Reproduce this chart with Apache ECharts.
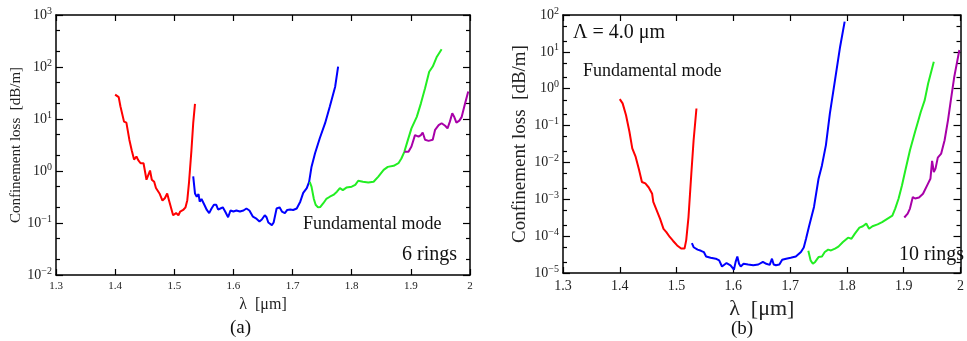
<!DOCTYPE html>
<html>
<head>
<meta charset="utf-8">
<script src="https://cdn.jsdelivr.net/npm/echarts@6/dist/echarts.min.js"></script>
<style>
  html, body { margin: 0; padding: 0; background: #fff; }
  #chart { width: 967px; height: 341px; }
</style>
</head>
<body>
<div id="chart"></div>
<script>
// panel (a): 6 rings, [lambda um, loss dB/m]
const redA = [[1.400,29.5],[1.406,26.3],[1.409,17.4],[1.415,8.9],[1.419,8.5],[1.424,4.0],[1.428,2.5],[1.432,1.66],[1.436,1.9],[1.439,1.62],[1.443,1.41],[1.448,1.41],[1.453,0.68],[1.459,1.02],[1.462,0.68],[1.466,0.62],[1.469,0.47],[1.475,0.37],[1.480,0.27],[1.484,0.30],[1.488,0.37],[1.491,0.275],[1.494,0.257],[1.498,0.141],[1.503,0.155],[1.507,0.141],[1.510,0.166],[1.515,0.178],[1.519,0.20],[1.522,0.275],[1.525,0.62],[1.529,2.5],[1.532,8.3],[1.535,19.5]]
const blueA = [[1.532,0.79],[1.535,0.37],[1.538,0.32],[1.541,0.36],[1.543,0.257],[1.546,0.29],[1.550,0.234],[1.555,0.178],[1.559,0.155],[1.563,0.19],[1.567,0.224],[1.571,0.224],[1.574,0.182],[1.578,0.19],[1.582,0.20],[1.586,0.166],[1.591,0.129],[1.595,0.174],[1.600,0.166],[1.605,0.174],[1.611,0.166],[1.617,0.174],[1.622,0.19],[1.627,0.174],[1.633,0.132],[1.638,0.123],[1.644,0.107],[1.648,0.117],[1.653,0.141],[1.656,0.129],[1.659,0.102],[1.665,0.091],[1.668,0.102],[1.673,0.19],[1.678,0.20],[1.682,0.166],[1.687,0.155],[1.691,0.178],[1.696,0.182],[1.701,0.178],[1.707,0.19],[1.713,0.257],[1.718,0.38],[1.724,0.47],[1.728,0.62],[1.732,1.2],[1.738,2.19],[1.746,4.27],[1.755,8.3],[1.763,17.4],[1.772,41.7],[1.777,102]]
const greenA = [[1.729,0.62],[1.732,0.50],[1.736,0.29],[1.739,0.224],[1.743,0.20],[1.747,0.204],[1.752,0.24],[1.757,0.29],[1.763,0.32],[1.769,0.347],[1.775,0.40],[1.780,0.47],[1.785,0.43],[1.791,0.48],[1.800,0.50],[1.806,0.54],[1.811,0.65],[1.819,0.62],[1.828,0.60],[1.837,0.62],[1.845,0.78],[1.854,1.05],[1.861,1.2],[1.871,1.26],[1.879,1.41],[1.884,1.74],[1.889,2.34],[1.894,3.63],[1.901,6.6],[1.910,11.0],[1.917,20.0],[1.924,38.9],[1.931,81],[1.937,102],[1.944,158],[1.952,219]]
const purpleA = [[1.889,2.34],[1.896,2.34],[1.901,2.95],[1.907,4.9],[1.913,4.57],[1.917,4.9],[1.920,5.5],[1.924,3.98],[1.930,3.8],[1.937,3.98],[1.941,6.2],[1.947,7.6],[1.952,8.3],[1.958,7.4],[1.962,6.6],[1.966,8.9],[1.970,12.9],[1.973,11.2],[1.977,8.5],[1.982,9.3],[1.986,11.0],[1.991,18.6],[1.997,33.9]]

// panel (b): 10 rings
const redB = [[1.400,0.52],[1.405,0.40],[1.411,0.19],[1.417,0.068],[1.422,0.024],[1.428,0.0141],[1.434,0.0062],[1.439,0.00295],[1.445,0.00269],[1.451,0.00209],[1.457,0.00141],[1.459,0.00085],[1.465,0.0005],[1.471,0.000295],[1.477,0.000158],[1.482,0.000129],[1.488,9.5e-5],[1.494,7.4e-5],[1.501,5.6e-5],[1.508,4.6e-5],[1.514,4.6e-5],[1.517,7.8e-5],[1.521,0.00033],[1.526,0.005],[1.530,0.04],[1.535,0.29]]
const blueB = [[1.527,6.5e-5],[1.530,5.0e-5],[1.537,4.3e-5],[1.543,4.0e-5],[1.548,3.7e-5],[1.552,2.8e-5],[1.560,2.6e-5],[1.569,2.45e-5],[1.575,2.2e-5],[1.580,1.5e-5],[1.588,1.86e-5],[1.595,1.62e-5],[1.601,1.23e-5],[1.604,2.0e-5],[1.607,2.8e-5],[1.610,1.78e-5],[1.613,1.5e-5],[1.618,1.78e-5],[1.626,1.7e-5],[1.635,1.62e-5],[1.644,1.7e-5],[1.652,2.0e-5],[1.658,1.78e-5],[1.664,1.66e-5],[1.668,2.45e-5],[1.671,1.7e-5],[1.675,1.62e-5],[1.681,1.7e-5],[1.686,2.3e-5],[1.693,2.45e-5],[1.701,2.6e-5],[1.710,2.8e-5],[1.719,3.7e-5],[1.724,4.9e-5],[1.728,8.5e-5],[1.733,0.000178],[1.742,0.00062],[1.750,0.0036],[1.756,0.0083],[1.763,0.0295],[1.770,0.214],[1.779,1.7],[1.788,13.8],[1.796,66]]
const greenB = [[1.732,4.0e-5],[1.736,2.2e-5],[1.740,1.78e-5],[1.744,2.0e-5],[1.750,2.7e-5],[1.756,2.8e-5],[1.761,3.7e-5],[1.767,4.3e-5],[1.772,4.1e-5],[1.779,4.6e-5],[1.785,5.2e-5],[1.793,6.9e-5],[1.802,9.1e-5],[1.808,8.5e-5],[1.814,0.000117],[1.822,0.00017],[1.828,0.000186],[1.834,0.000219],[1.839,0.000158],[1.845,0.000186],[1.854,0.000209],[1.862,0.00024],[1.871,0.000295],[1.880,0.00036],[1.885,0.00056],[1.891,0.00105],[1.897,0.0024],[1.903,0.0062],[1.911,0.0214],[1.920,0.068],[1.926,0.141],[1.930,0.234],[1.937,0.49],[1.943,1.38],[1.953,5.4]]
const purpleB = [[1.901,0.00032],[1.907,0.00041],[1.911,0.00056],[1.916,0.00115],[1.920,0.00105],[1.927,0.00112],[1.934,0.00141],[1.943,0.0027],[1.947,0.0036],[1.950,0.011],[1.953,0.0055],[1.956,0.0068],[1.960,0.0135],[1.966,0.0174],[1.972,0.04],[1.978,0.141],[1.983,0.49],[1.989,2.1],[1.998,11.2]]

// minor tick mantissas on the log axes
const minorSteps = [2, 5]

const serif = '"Liberation Serif", "DejaVu Serif", serif'
const colors = { red: '#ff0000', blue: '#0000ff', green: '#22ee22', purple: '#a800a8' }

const chart = echarts.init(document.getElementById('chart'))

// 10^n label with superscript
const powLabel = v => {
  const e = Math.round(Math.log10(v))
  return '10{sup|' + (e < 0 ? '\u2212' + (-e) : e) + '}'
}
const xLabel = v => String(Math.round(v * 10) / 10)

const minorValues = (lo, hi) => {
  const out = []
  for (let e = lo; e < hi; e++) minorSteps.forEach(m => out.push(m * Math.pow(10, e)))
  return out
}

const tickStyle = { color: '#000', width: 1.2 }

const xAxisFor = (grid, fontSize, name, nameSize, gap) => [
  {
    gridIndex: grid, type: 'value', min: 1.3, max: 2.0, interval: 0.1,
    name: name, nameLocation: 'middle', nameGap: gap,
    nameTextStyle: { fontFamily: serif, fontSize: nameSize, color: '#222' },
    axisLine: { lineStyle: { color: '#000', width: 1.5 } },
    axisTick: { inside: true, length: 6, lineStyle: tickStyle },
    axisLabel: { formatter: xLabel, fontFamily: serif, fontSize: fontSize, color: '#222', margin: 6 },
    splitLine: { show: false }
  },
  {
    gridIndex: grid, type: 'value', position: 'top', min: 1.3, max: 2.0, interval: 0.1,
    axisLine: { lineStyle: { color: '#000', width: 1.5 } },
    axisTick: { inside: true, length: 6, lineStyle: tickStyle },
    axisLabel: { show: false },
    splitLine: { show: false }
  }
]

const yAxisFor = (grid, lo, hi, nameSize, gap) => {
  const base = {
    gridIndex: grid, type: 'log', logBase: 10, min: Math.pow(10, lo), max: Math.pow(10, hi),
    splitNumber: hi - lo, splitLine: { show: false }
  }
  const major = {
    axisLine: { show: true, lineStyle: { color: '#000', width: 1.5 } },
    axisTick: { inside: true, length: 7, lineStyle: tickStyle }
  }
  const minor = {
    axisLine: { show: false },
    axisLabel: { show: false },
    axisTick: { show: true, inside: true, length: 4, customValues: minorValues(lo, hi), lineStyle: tickStyle }
  }
  return [
    Object.assign({}, base, major, {
      name: 'Confinement loss  [dB/m]', nameLocation: 'middle', nameGap: gap,
      nameTextStyle: { fontFamily: serif, fontSize: nameSize, color: '#222' },
      axisLabel: {
        formatter: powLabel, margin: 4, fontFamily: serif, fontSize: 14, color: '#222',
        rich: { sup: { fontFamily: serif, fontSize: 10, verticalAlign: 'top', padding: [0, 0, 8, 0], color: '#222' } }
      }
    }),
    Object.assign({}, base, major, { position: 'right', axisLabel: { show: false } }),
    Object.assign({}, base, minor, { position: 'left' }),
    Object.assign({}, base, minor, { position: 'right' })
  ]
}

const line = (name, data, color, xi, yi) => ({
  name: name, type: 'line', data: data, xAxisIndex: xi, yAxisIndex: yi,
  showSymbol: false, symbol: 'none', animation: false,
  lineStyle: { color: color, width: 2 }
})

const text = (x, y, str, size, align) => ({
  type: 'text', left: x, top: y,
  style: { text: str, fontFamily: serif, fontSize: size, fill: '#111', textAlign: align || 'left' }
})

const option = {
  backgroundColor: '#fff',
  animation: false,
  grid: [
    { left: 56, top: 15, width: 414, height: 260 },
    { left: 563, top: 15, width: 405, height: 258 }
  ],
  xAxis: [].concat(
    xAxisFor(0, 11, '\u03bb  [\u03bcm]', 16, 19),
    xAxisFor(1, 14, '\u03bb  [\u03bcm]', 22, 14)
  ),
  yAxis: [].concat(
    yAxisFor(0, -2, 3, 15, 31),
    yAxisFor(1, -5, 2, 19, 33)
  ),
  series: [
    line('redA', redA, colors.red, 0, 0),
    line('blueA', blueA, colors.blue, 0, 0),
    line('greenA', greenA, colors.green, 0, 0),
    line('purpleA', purpleA, colors.purple, 0, 0),
    line('redB', redB, colors.red, 2, 4),
    line('blueB', blueB, colors.blue, 2, 4),
    line('greenB', greenB, colors.green, 2, 4),
    line('purpleB', purpleB, colors.purple, 2, 4)
  ],
  graphic: [
    text(303, 215, 'Fundamental mode', 18),
    text(402, 245, '6 rings', 20),
    text(230, 319, '(a)', 19),
    text(573, 23, '\u039b = 4.0 \u03bcm', 20),
    text(583, 62, 'Fundamental mode', 18),
    text(899, 245, '10 rings', 20),
    text(731, 320, '(b)', 19)
  ]
}

chart.setOption(option)
</script>
</body>
</html>
